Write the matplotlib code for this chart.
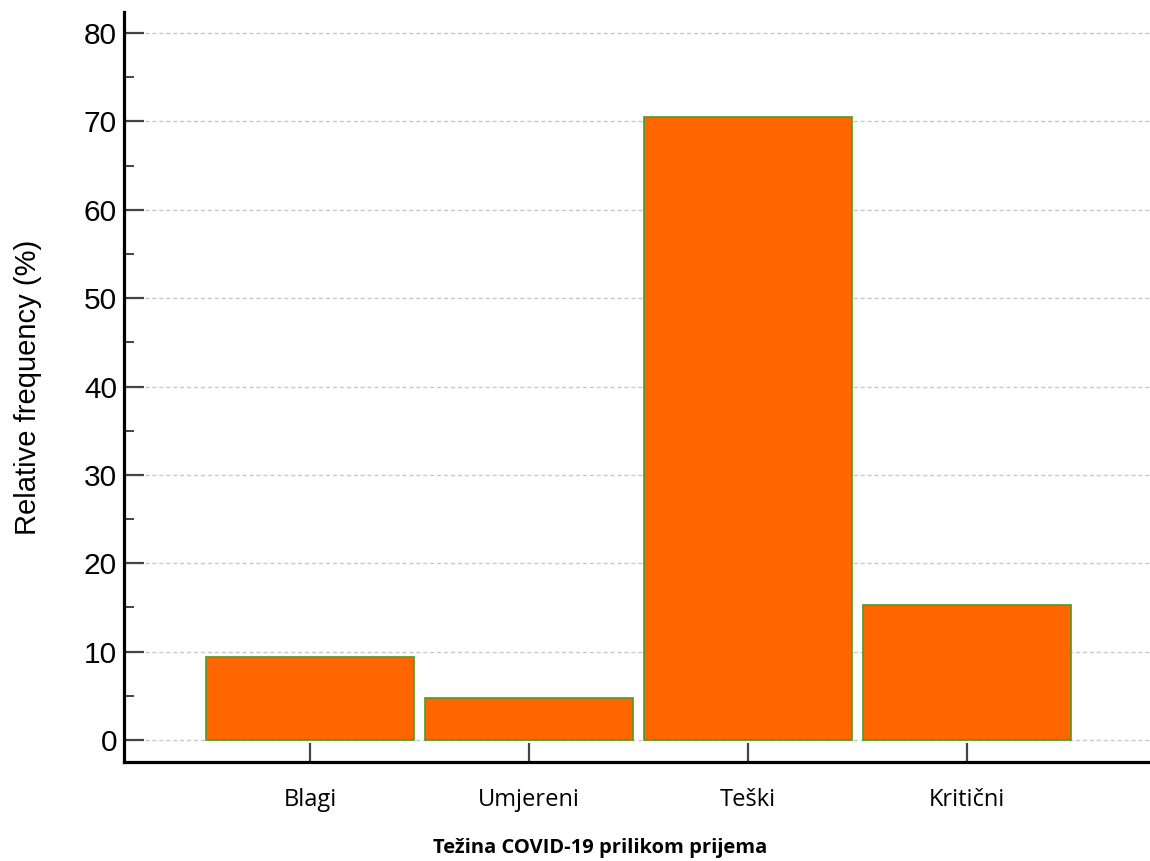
import matplotlib
matplotlib.use("Agg")
import matplotlib.pyplot as plt
from matplotlib.ticker import MultipleLocator

categories = ["Blagi", "Umjereni", "Teški", "Kritični"]
values = [9.4, 4.8, 70.5, 15.3]
y_ticks = [0, 10, 20, 30, 40, 50, 60, 70, 80]

fig = plt.figure(figsize=(11.5, 8.61), dpi=100)
ax = fig.add_axes([0.1078, 0.115, 0.8922, 0.871])

x = list(range(len(categories)))
ax.bar(x, values, width=0.95, color="#FF6600", edgecolor="#4f9a22",
       linewidth=1.2, zorder=3)

ax.set_xlim(-0.849, 3.836)
ax.set_ylim(-2.49, 82.38)
ax.set_yticks(y_ticks)
ax.set_yticklabels([str(v) for v in y_ticks], fontfamily="Liberation Sans", fontsize=21.5)
ax.yaxis.set_minor_locator(MultipleLocator(5))
ax.set_xticks(x)
ax.set_xticklabels(categories, fontfamily="Open Sans", fontsize=17)

ax.grid(axis="y", which="major", linestyle=(0, (3, 2)), color="#c8c8c8",
        linewidth=1.0, zorder=0)

for s in ["top", "right"]:
    ax.spines[s].set_visible(False)
for s in ["left", "bottom"]:
    ax.spines[s].set_linewidth(2.3)
    ax.spines[s].set_color("black")

ax.tick_params(axis="y", which="major", direction="in", length=14.4, width=1.6,
               color="#444444", pad=5)
ax.tick_params(axis="y", which="minor", direction="in", length=7.2, width=1.4,
               color="#444444")
ax.tick_params(axis="x", which="major", direction="in", length=13.5, width=1.6,
               color="#444444", pad=19)

ax.set_ylabel("Relative frequency (%)", fontfamily="Liberation Sans",
              fontsize=21, labelpad=30)
ax.set_xlabel("Težina COVID-19 prilikom prijema", fontfamily="Open Sans",
              fontsize=14.5, fontweight="bold")
ax.xaxis.set_label_coords(0.464, -0.102)

fig.savefig("out.png", dpi=100)
